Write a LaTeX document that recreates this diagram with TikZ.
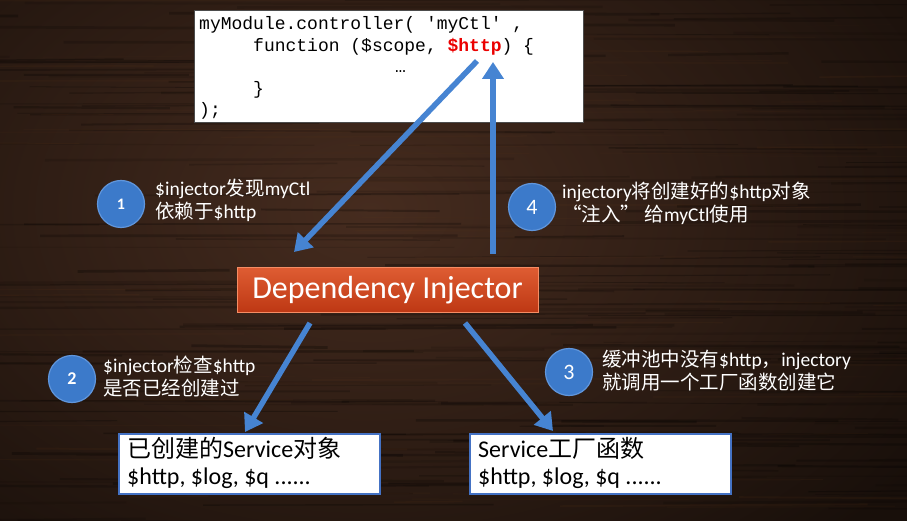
\documentclass[tikz,border=0pt]{standalone}
\usepackage{fontspec}
\setmainfont{Carlito}
\setmonofont{Liberation Mono}
\newfontfamily\cjk{Noto Sans CJK SC}
\usetikzlibrary{arrows.meta}

\definecolor{woodlight}{RGB}{70,44,31}
\definecolor{woodmid}{RGB}{52,33,23}
\definecolor{wooddark}{RGB}{24,15,10}
\definecolor{flowblue}{RGB}{70,132,210}
\definecolor{badgefill}{RGB}{60,122,202}
\definecolor{badgering}{RGB}{96,150,220}
\definecolor{ditop}{RGB}{222,92,50}
\definecolor{dibottom}{RGB}{190,56,20}
\definecolor{diring}{RGB}{245,140,100}
\definecolor{boxblue}{RGB}{68,114,196}
\definecolor{codered}{RGB}{235,0,0}

\newcommand\zh[1]{{\cjk #1}}

\begin{document}
\begin{tikzpicture}[x=1pt,y=-1pt,
  flow/.style={draw=flowblue, line width=5.5pt,
    -{Triangle[length=17pt,width=21pt]}},
  badge/.style={circle, fill=badgefill, draw=badgering, line width=1.2pt,
    minimum size=47pt, inner sep=0pt, text=white},
  note/.style={anchor=base west, inner sep=0pt, text=white,
    font=\fontsize{19.5}{22}\selectfont},
  codeline/.style={anchor=base west, inner sep=0pt, text=black,
    font=\ttfamily\fontsize{18}{20}\selectfont},
  svcbox/.style={draw=boxblue, line width=2pt, fill=white,
    minimum width=261pt, minimum height=60pt, inner sep=0pt},
  svcline/.style={anchor=base west, inner sep=0pt, text=black,
    font=\fontsize{24}{26}\selectfont}]

\useasboundingbox (0,0) rectangle (907,521);

% dark wooden backdrop
\begin{scope}
  \clip (0,0) rectangle (907,521);
  \fill[wooddark] (0,0) rectangle (907,521);
  \shade[inner color=woodlight, outer color=wooddark]
    (-300,-240) rectangle (1040,660);
  \pgfmathsetseed{17}
  \foreach \i in {1,...,240}{
    \pgfmathsetmacro\yy{rnd*521}
    \pgfmathsetmacro\xx{rnd*1000-120}
    \pgfmathsetmacro\ll{80+rnd*420}
    \pgfmathsetmacro\op{0.08+rnd*0.18}
    \pgfmathsetmacro\lw{0.6+rnd*2.2}
    \pgfmathsetmacro\dy{rnd*4-2}
    \draw[black, opacity=\op, line width=\lw pt] (\xx,\yy) -- ++(\ll,\dy);
  }
  \foreach \i in {1,...,90}{
    \pgfmathsetmacro\yy{rnd*521}
    \pgfmathsetmacro\xx{rnd*1000-120}
    \pgfmathsetmacro\ll{60+rnd*300}
    \pgfmathsetmacro\op{0.04+rnd*0.08}
    \pgfmathsetmacro\lw{0.5+rnd*1.5}
    \pgfmathsetmacro\dy{rnd*4-2}
    \draw[woodlight!80!orange, opacity=\op, line width=\lw pt] (\xx,\yy) -- ++(\ll,\dy);
  }
\end{scope}

% controller source code
\node[draw=black!70, line width=1pt, fill=white, minimum width=389pt,
  minimum height=112pt, inner sep=0pt] (code) at (388.5,67) {};
\node[codeline] (c1) at (199,30) {myModule.controller( 'myCtl' ,};
\node[codeline] (c2) at (253,52) {function (\$scope, {\bfseries\color{codered}\$http}) \{};
\node[codeline] (c3) at (395,73) {…};
\node[codeline] (c4) at (253,95) {\}};
\node[codeline] (c5) at (199,116) {);};

% the injector
\node[draw=diring, line width=1pt, top color=ditop, bottom color=dibottom,
  minimum width=301pt, minimum height=44pt, inner sep=0pt, text=white,
  font=\fontsize{32}{34}\selectfont] (di) at (387.5,290) {Dependency Injector};

% service boxes
\node[svcbox] (cache) at (249,464) {};
\node[svcline] (k1) at (127,457) {\zh{已创建的}Service\zh{对象}};
\node[svcline] (k2) at (127,484) {\$http, \$log, \$q ......};
\node[svcbox] (factory) at (600,464) {};
\node[svcline] (f1) at (478,457) {Service\zh{工厂函数}};
\node[svcline] (f2) at (478,484) {\$http, \$log, \$q ......};

% connector end points
\coordinate (s1) at (477,61);
\coordinate (e1) at (294,252);
\coordinate (s4) at (493,254);
\coordinate (e4) at (493,62);
\coordinate (s2) at (310,323);
\coordinate (e2) at (245,432);
\coordinate (s3) at (465,323);
\coordinate (e3) at (553,431);

\draw[flow] (s1) -- (e1);
\draw[flow] (s4) -- (e4);
\draw[flow] (s2) -- (e2);
\draw[flow] (s3) -- (e3);

% numbered steps
\node[badge, font=\bfseries\fontsize{16}{16}\selectfont] (b1) at (121,204) {1};
\node[badge, font=\fontsize{22}{22}\selectfont] (b4) at (532,207) {4};
\node[badge, font=\bfseries\fontsize{18}{18}\selectfont] (b2) at (72,379) {2};
\node[badge, font=\fontsize{22}{22}\selectfont] (b3) at (569,372) {3};

\node[note] (n1a) at (155,196) {\$injector\zh{发现}myCtl};
\node[note] (n1b) at (155,219) {\zh{依赖于}\$http};
\node[note] (n4a) at (562,199) {injectory\zh{将创建好的}\$http\zh{对象}};
\node[note] (n4b) at (562,222) {\zh{“注入” 给}myCtl\zh{使用}};
\node[note] (n2a) at (103,372) {\$injector\zh{检查}\$http};
\node[note] (n2b) at (103,395) {\zh{是否已经创建过}};
\node[note] (n3a) at (602,366) {\zh{缓冲池中没有}\$http\zh{，}injectory};
\node[note] (n3b) at (602,389) {\zh{就调用一个工厂函数创建它}};

\end{tikzpicture}
\end{document}
